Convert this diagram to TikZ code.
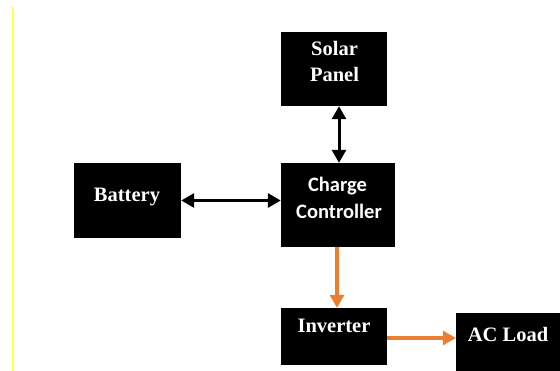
\documentclass[tikz,border=0pt]{standalone}
\usepackage{fontspec}
\setmainfont{Liberation Serif}
\newfontfamily\calfont{Carlito}
\usetikzlibrary{arrows.meta,calc}
\definecolor{flowor}{RGB}{237,125,49}
\definecolor{edgey}{RGB}{255,255,60}
\tikzset{
  blk/.style={fill=black, draw=none, inner sep=0pt},
  lbl/.style={text=white, inner sep=0pt, anchor=base, font=\bfseries\fontsize{20.5}{25}\selectfont},
  lblsans/.style={text=white, inner sep=0pt, anchor=base, font=\calfont\bfseries\fontsize{20.5}{27}\selectfont},
  blkarrow/.style={line width=3pt, {Triangle[length=13pt,width=14pt]}-{Triangle[length=13pt,width=14pt]}},
  orarrow/.style={line width=3.5pt, draw=flowor, -{Triangle[length=13pt,width=14pt]}}
}
\begin{document}
\begin{tikzpicture}[x=1pt,y=1pt]
\useasboundingbox[fill=white] (0,0) rectangle (560,-371);
% yellow edge line
\coordinate (ytop) at (12,-7);
\coordinate (ybot) at (12,-371);
\draw[edgey, line width=0.9pt] (ytop) -- (ybot);
% boxes
\node[blk, minimum width=106pt, minimum height=74pt] (solar) at (334,-69) {};
\node[blk, minimum width=107pt, minimum height=75pt] (batt) at (127.5,-200.5) {};
\node[blk, minimum width=114pt, minimum height=84pt] (cc) at (338,-205) {};
\node[blk, minimum width=106pt, minimum height=57pt] (inv) at (334,-336.5) {};
\node[blk, minimum width=110pt, minimum height=60pt] (ac) at (511,-343) {};
% labels
\node[lbl] (solart1) at (334.5,-56) {Solar};
\node[lbl] (solart2) at (334.5,-82) {Panel};
\node[lbl] (battt) at (127,-202) {Battery};
\node[lblsans] (cct1) at (337.5,-192) {Charge};
\node[lblsans] (cct2) at (339,-219) {Controller};
\node[lbl] (invt) at (334,-333) {Inverter};
\node[lbl] (act) at (508,-342) {AC Load};
% connectors
\draw[blkarrow] ($(cc.north |- solar.south)+(1,0)$) -- ($(cc.north)+(1,0)$);
\draw[blkarrow] (batt.east) -- (batt.east -| cc.west);
\draw[orarrow] ($(cc.south)+(-1,0)$) -- ($(cc.south |- inv.north)+(-1,0)$);
\draw[orarrow] ($(inv.east)+(0,-1.5)$) -- ($(inv.east -| ac.west)+(0,-1.5)$);
\end{tikzpicture}
\end{document}
